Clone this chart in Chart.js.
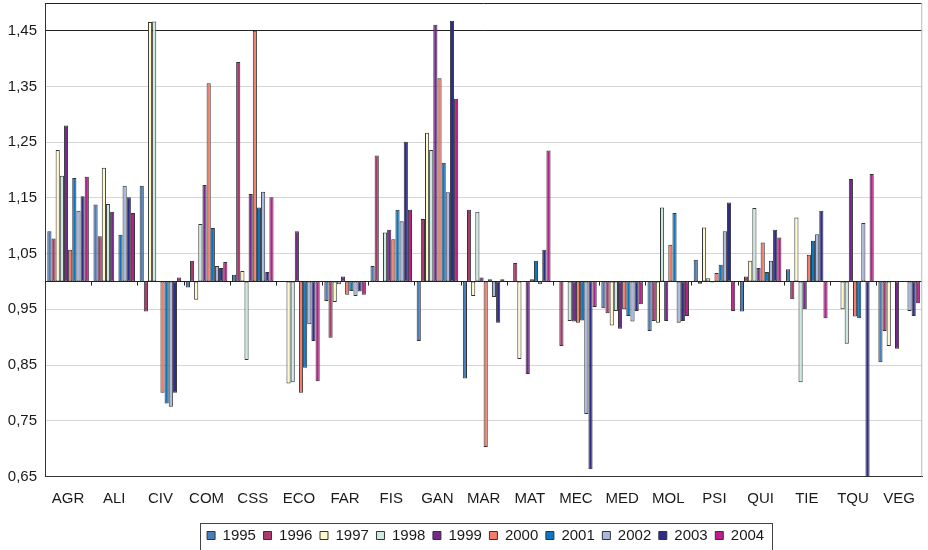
<!DOCTYPE html>
<html>
<head>
<meta charset="utf-8">
<script src="https://cdn.jsdelivr.net/npm/chart.js@4/dist/chart.umd.min.js"></script>
<style>
  html, body { margin: 0; padding: 0; background: #fff; }
  #wrap { width: 928px; height: 550px; }
</style>
</head>
<body>
<div id="wrap"><canvas id="chart"></canvas></div>
<script>
const categories = ['AGR', 'ALI', 'CIV', 'COM', 'CSS', 'ECO', 'FAR', 'FIS', 'GAN', 'MAR',
                    'MAT', 'MEC', 'MED', 'MOL', 'PSI', 'QUI', 'TIE', 'TQU', 'VEG'];
const years = ['1995', '1996', '1997', '1998', '1999', '2000', '2001', '2002', '2003', '2004'];
const yTicks = [0.65, 0.75, 0.85, 0.95, 1.05, 1.15, 1.25, 1.35, 1.45];

const v1995 = [1.090, 1.138, 1.172, 0.989, 1.012, 1.000, 0.965, 1.028, 0.893, 0.826, 1.000, 1.000, 0.952, 0.911, 1.039, 0.946, 1.022, 1.000, 0.855];
const v1996 = [1.077, 1.081, 0.946, 1.037, 1.394, 1.000, 0.899, 1.226, 1.112, 1.129, 1.033, 0.884, 0.943, 0.929, 0.996, 1.009, 0.968, 1.000, 0.911];
const v1997 = [1.236, 1.204, 1.466, 0.967, 1.019, 0.817, 0.963, 1.000, 1.267, 0.974, 0.861, 1.000, 0.921, 0.926, 1.097, 1.037, 1.115, 0.950, 0.884];
const v1998 = [1.190, 1.139, 1.467, 1.103, 0.859, 0.819, 0.995, 1.088, 1.236, 1.125, 1.000, 0.929, 0.947, 1.133, 1.006, 1.132, 0.819, 0.888, 1.000];
const v1999 = [1.280, 1.125, 1.000, 1.173, 1.157, 1.090, 1.009, 1.093, 1.461, 1.007, 0.834, 0.928, 0.915, 0.929, 0.998, 1.024, 0.950, 1.184, 0.879];
const v2000 = [1.057, 1.000, 0.800, 1.356, 1.450, 0.800, 0.976, 1.076, 1.365, 0.703, 1.004, 0.926, 0.950, 1.066, 1.015, 1.070, 1.048, 0.937, 1.000];
const v2001 = [1.186, 1.084, 0.781, 1.096, 1.133, 0.845, 0.983, 1.129, 1.213, 1.004, 1.037, 0.930, 0.938, 1.123, 1.030, 1.017, 1.073, 0.934, 1.000];
const v2002 = [1.127, 1.172, 0.775, 1.028, 1.161, 0.923, 0.974, 1.108, 1.160, 0.972, 0.995, 0.762, 0.928, 0.926, 1.090, 1.037, 1.085, 1.105, 0.947];
const v2003 = [1.153, 1.151, 0.800, 1.024, 1.017, 0.893, 0.982, 1.251, 1.468, 0.926, 1.057, 0.663, 0.947, 0.929, 1.142, 1.093, 1.127, 0.600, 0.938];
const v2004 = [1.188, 1.123, 1.007, 1.035, 1.151, 0.821, 0.976, 1.129, 1.328, 1.004, 1.235, 0.954, 0.959, 0.938, 0.947, 1.079, 0.934, 1.193, 0.961];

const series = [v1995, v1996, v1997, v1998, v1999, v2000, v2001, v2002, v2003, v2004];
const colors = ['#4A7EBB', '#A93A6E', '#FFF8CC', '#CCE9E2', '#74298C',
                '#F07D6E', '#0B77C4', '#A8B9E0', '#2D2C8C', '#BE1E8C'];

const FONT = { family: "'Liberation Sans', Arial, sans-serif", size: 15 };
const BASE = 1;

// bars hang from the 1.0 baseline, so every value becomes a [base, value] pair
const datasets = years.map((y, i) => ({
    label: y,
    data: series[i].map(v => [BASE, v]),
    backgroundColor: colors[i],
    borderColor: '#333',
    borderWidth: 1,
    borderSkipped: false,
    categoryPercentage: 0.9,
    barPercentage: 1.0
}));

// baseline axis at 1.0 with small ticks between categories, plus the frame
const framePlugin = {
    id: 'frame',
    afterLayout(chart) {
        // nudge the legend a little right and down
        const lg = chart.legend;
        if (!lg) return;
        const dx = 2, dy = 4;
        lg.left += dx; lg.right += dx;
        lg.top += dy; lg.bottom += dy;
        lg.legendHitBoxes.forEach(b => { b.left += dx; b.top += dy; });
    },
    afterDatasetsDraw(chart) {
        const { ctx, chartArea: a, scales: { y } } = chart;
        const y0 = Math.round(y.getPixelForValue(BASE)) + 0.5;
        ctx.save();
        ctx.strokeStyle = '#222';
        ctx.lineWidth = 1;
        ctx.beginPath();
        ctx.moveTo(a.left, y0);
        ctx.lineTo(a.right, y0);
        const step = (a.right - a.left) / categories.length;
        for (let i = 1; i < categories.length; i++) {
            const px = Math.round(a.left + i * step) + 0.5;
            ctx.moveTo(px, y0);
            ctx.lineTo(px, y0 + 4);
        }
        ctx.moveTo(a.left, a.top + 0.5);
        ctx.lineTo(a.right, a.top + 0.5);
        ctx.stroke();
        ctx.strokeStyle = '#bbb';
        ctx.beginPath();
        ctx.moveTo(a.right - 0.5, a.top);
        ctx.lineTo(a.right - 0.5, a.bottom);
        ctx.stroke();
        ctx.restore();
    },
    afterDraw(chart) {
        const boxes = chart.legend && chart.legend.legendHitBoxes;
        if (!boxes || !boxes.length) return;
        const left = Math.min(...boxes.map(b => b.left)) - 7;
        const right = Math.max(...boxes.map(b => b.left + b.width)) + 8;
        const top = Math.min(...boxes.map(b => b.top)) - 9;
        const bottom = Math.max(...boxes.map(b => b.top + b.height)) + 3;
        const ctx = chart.ctx;
        ctx.save();
        ctx.strokeStyle = '#444';
        ctx.lineWidth = 1;
        ctx.strokeRect(Math.round(left) + 0.5, Math.round(top) + 0.5,
                       Math.round(right - left), Math.round(bottom - top));
        ctx.restore();
    }
};

new Chart(document.getElementById('chart'), {
    type: 'bar',
    data: { labels: categories, datasets: datasets },
    plugins: [framePlugin],
    options: {
        responsive: true,
        maintainAspectRatio: false,
        animation: false,
        layout: { padding: { top: 3, right: 1, left: 0, bottom: 1 } },
        plugins: {
            tooltip: { enabled: false },
            legend: {
                position: 'bottom',
                fullSize: false,
                labels: {
                    boxWidth: 8,
                    boxHeight: 8,
                    padding: 7.6,
                    color: '#1a1a1a',
                    font: FONT
                }
            }
        },
        scales: {
            x: {
                grid: { display: false, drawTicks: false },
                border: { display: true, color: '#333' },
                ticks: { color: '#1a1a1a', font: FONT, padding: 13, maxRotation: 0, autoSkip: false },
                afterFit(scale) { scale.height = 40; }
            },
            y: {
                min: 0.65,
                max: 1.5,
                afterBuildTicks(scale) { scale.ticks = yTicks.map(v => ({ value: v })); },
                afterFit(scale) {
                    scale.width = 45;
                    scale.paddingTop = 0;
                    scale.paddingBottom = 0;
                },
                grid: {
                    drawTicks: false,
                    color: c => (Math.abs(c.tick.value - 1.45) < 1e-6 || Math.abs(c.tick.value - 0.65) < 1e-6) ? '#222' : '#d6d6d6'
                },
                border: { display: true, color: '#333' },
                ticks: {
                    color: '#1a1a1a',
                    font: FONT,
                    padding: 8,
                    callback: v => v.toFixed(2).replace('.', ',')
                }
            }
        }
    }
});
</script>
</body>
</html>
